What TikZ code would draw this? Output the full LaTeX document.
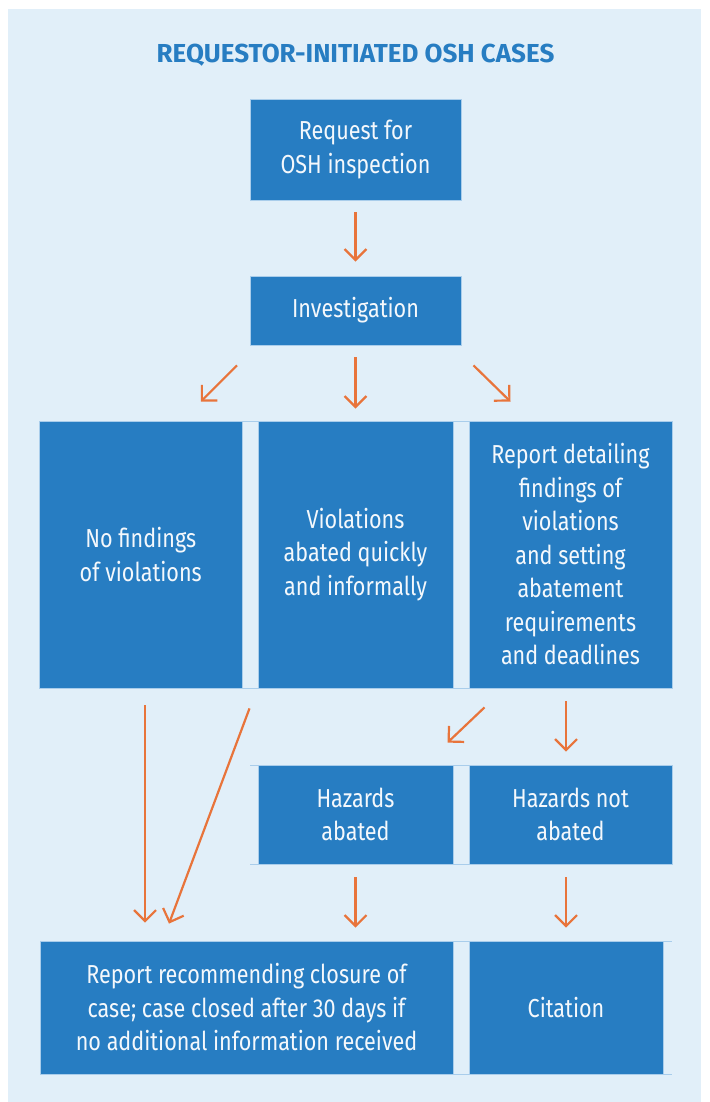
\documentclass[tikz,border=0pt]{standalone}
\usepackage{fontspec}
\setmainfont[FakeStretch=0.83]{Fira Sans}
\newfontfamily\titlefont{Fira Sans}
\usetikzlibrary{arrows.meta,calc}
\definecolor{bgc}{HTML}{E1EFF9}
\definecolor{boxc}{HTML}{277DC2}
\definecolor{gridc}{HTML}{A9CDEB}
\definecolor{arrc}{HTML}{E8743B}
\definecolor{txtc}{HTML}{F4F8FC}
\begin{document}
\begin{tikzpicture}[x=1pt,y=-1pt,
  box/.style={rectangle, fill=boxc, draw=gridc, line width=0.8pt, text=txtc,
    align=center, inner sep=0pt, font=\fontsize{26}{33.5}\selectfont},
  arr/.style={draw=arrc, line width=2.2pt, -{Straight Barb[length=11pt,width=22pt]}},
  gridline/.style={draw=gridc, line width=0.8pt}]
\useasboundingbox (0,0) rectangle (709,1102);
\fill[white] (0,0) rectangle (709,1102);
\fill[bgc] (8,9) rectangle (701,1102);

% table grid lines
\draw[gridline] (40,421) rectangle (672,688);
\draw[gridline] (250,765) -- (672,765);
\draw[gridline] (250,864) -- (672,864);
\draw[gridline] (40,941) -- (672,941);
\draw[gridline] (40,1074) -- (672,1074);

\node[anchor=base, text=boxc, font=\titlefont\bfseries\fontsize{26}{30}\selectfont] (title) at (355.5,63) {REQUESTOR-INITIATED OSH CASES};

\node[box, minimum width=211pt, minimum height=101pt] (req) at (355.5,149.5) {Request for\\OSH inspection};
\node[box, minimum width=211pt, minimum height=69pt] (inv) at (355.5,310.5) {Investigation};

\node[box, minimum width=202.5pt, minimum height=267pt] (A) at (140.75,554.5) {No findings\\of violations};
\node[box, minimum width=195pt, minimum height=267pt] (B) at (355.5,554.5) {Violations\\abated quickly\\and informally};
\node[box, minimum width=203pt, minimum height=267pt] (C) at (570.5,554.5) {Report detailing\\findings of\\violations\\and setting\\abatement\\requirements\\and deadlines};

\node[box, minimum width=195pt, minimum height=99pt] (HA) at (355.5,814.5) {Hazards\\abated};
\node[box, minimum width=203pt, minimum height=99pt] (HN) at (570.5,814.5) {Hazards not\\abated};

\node[box, minimum width=413pt, minimum height=133pt] (close) at (246.5,1007.5) {Report recommending closure of\\case; case closed after 30 days if\\no additional information received};
\node[box, minimum width=194pt, minimum height=133pt] (cit) at (566,1007.5) {Citation};

% arrows
\draw[arr] ([yshift=-12pt]req.south) -- ([yshift=14pt]inv.north);
\draw[arr] ([xshift=-118.5pt,yshift=-20pt]inv.south) -- ([xshift=60pt,yshift=19pt]A.north);
\draw[arr] ([yshift=-12pt]inv.south) -- ([yshift=12pt]B.north);
\draw[arr] ([xshift=118pt,yshift=-20pt]inv.south) -- ([xshift=-60pt,yshift=19pt]C.north);

\draw[arr] ([xshift=4.25pt,yshift=-17pt]A.south) -- ([xshift=-101.5pt,yshift=18pt]close.north);
\draw[arr] ([xshift=-106pt,yshift=-20pt]B.south) -- ([xshift=-77.5pt,yshift=17pt]close.north);
\draw[arr] ([xshift=-86pt,yshift=-19pt]C.south) -- ([xshift=92pt,yshift=22pt]HA.north);
\draw[arr] ([xshift=-4.5pt,yshift=-13pt]C.south) -- ([xshift=-4.5pt,yshift=13pt]HN.north);

\draw[arr] ([yshift=-13pt]HA.south) -- ([xshift=109pt,yshift=13pt]close.north);
\draw[arr] ([xshift=-4.5pt,yshift=-13pt]HN.south) -- ([yshift=13pt]cit.north);
\end{tikzpicture}
\end{document}
